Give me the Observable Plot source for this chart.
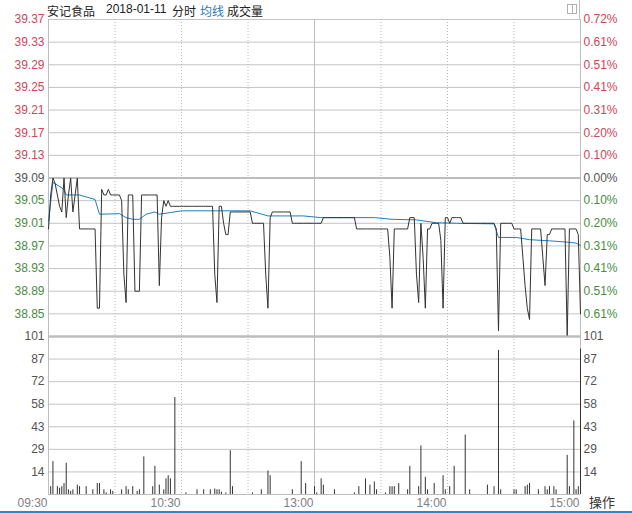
<!DOCTYPE html>
<html><head><meta charset="utf-8">
<script src="https://cdn.jsdelivr.net/npm/d3@7"></script>
<script src="https://cdn.jsdelivr.net/npm/@observablehq/plot@0.6"></script>
<style>
html,body{margin:0;padding:0;background:#fff;}
#wrap{position:relative;width:632px;height:513px;overflow:hidden;font-family:"Liberation Sans",Arial,"Noto Sans CJK SC",sans-serif;font-size:12px;color:#222;}
.abs{position:absolute;white-space:pre;}
#price,#vol{position:absolute;left:0;}
#price{top:0}
#vol{top:328px}
</style></head><body><div id="wrap">
<div id="price"></div>
<div id="vol"></div>
<div class="abs" style="left:47px;top:2px;font-family:'Noto Sans CJK SC';">安记食品</div>
<div class="abs" style="left:106px;top:2px;">2018-01-11</div>
<div class="abs" style="left:172px;top:2px;font-family:'Noto Sans CJK SC';">分时</div>
<div class="abs" style="left:200px;top:2px;font-family:'Noto Sans CJK SC';color:#2a7ab8;">均线</div>
<div class="abs" style="left:227px;top:2px;font-family:'Noto Sans CJK SC';">成交量</div>
<div class="abs" style="left:567px;top:4px;width:8px;height:8px;border:1px solid #b0b0b0;"></div>
<div class="abs" style="left:572px;top:4px;width:1px;height:10px;background:#b0b0b0;"></div>
<div class="abs" style="left:579px;top:0px;width:1px;height:19px;background:#c0c0c0;"></div>
<div class="abs" style="left:589px;top:492px;font-family:'Noto Sans CJK SC';font-size:13px;color:#333;">操作</div>
<div class="abs" style="left:0;top:511px;width:632px;height:2px;background:#2f86d0;"></div>
</div>
<script>
// ---- data ----
const prevClose = 39.09;
const priceTicks = [39.37,39.33,39.29,39.25,39.21,39.17,39.13,39.09,39.05,39.01,38.97,38.93,38.89,38.85];
const pctLabels  = ["0.72%","0.61%","0.51%","0.41%","0.31%","0.20%","0.10%","0.00%","0.10%","0.20%","0.31%","0.41%","0.51%","0.61%"];
const priceBottom = 38.81;
const volMax = 101;
const volTicks = [101/7, 202/7, 303/7, 404/7, 505/7, 606/7, 101];
const volLabels = ["14","29","43","58","72","87","101"];
const timeMinutes = [0, 60, 120, 180, 240];
const timeLabels = ["09:30","10:30","13:00","14:00","15:00"];
const dottedMinutes = [30, 60, 90, 150, 180, 210];

// per-minute last price, 09:30 .. 15:00 (241 points)
const price = [
 39.00,39.06,39.09,39.08,39.06,39.04,39.03,39.09,39.02,39.06,
 39.09,39.03,39.06,39.09,39.00,39.00,39.00,39.00,39.00,39.00,
 39.00,39.00,38.86,38.86,39.07,39.06,39.06,39.07,39.06,39.06,
 39.06,39.06,39.06,39.05,38.92,38.87,39.06,39.06,39.06,38.89,
 38.89,38.89,39.06,39.06,39.06,39.06,39.06,39.06,39.06,39.06,
 38.90,39.02,39.05,39.04,39.05,39.04,39.04,39.04,39.04,39.04,
 39.04,39.04,39.04,39.04,39.04,39.04,39.04,39.04,39.04,39.04,
 39.04,39.04,39.04,39.04,39.04,38.92,38.87,39.04,39.04,39.01,
 38.99,38.99,39.03,39.03,39.03,39.03,39.03,39.03,39.03,39.03,
 39.03,39.03,39.01,39.01,39.01,39.01,39.01,39.01,38.92,38.86,
 39.02,39.03,39.03,39.03,39.03,39.03,39.03,39.03,39.03,39.03,
 39.01,39.01,39.01,39.01,39.01,39.01,39.01,39.01,39.01,39.01,
 39.01,39.01,39.01,39.01,39.02,39.02,39.02,39.02,39.02,39.02,
 39.02,39.02,39.02,39.02,39.02,39.02,39.02,39.02,39.02,39.00,
 39.00,39.00,39.00,39.00,39.00,39.00,39.00,39.00,39.00,39.00,
 39.00,39.00,39.00,39.00,38.95,38.86,39.00,39.00,39.00,39.00,
 39.00,39.00,39.00,39.02,39.02,39.02,38.92,38.87,39.01,38.95,
 38.86,39.00,39.00,39.01,39.01,39.01,39.01,38.98,38.86,39.02,
 39.02,39.01,39.02,39.02,39.02,39.02,39.02,39.01,39.01,39.01,
 39.01,39.01,39.01,39.01,39.01,39.01,39.01,39.01,39.01,39.01,
 39.01,39.01,39.00,38.82,39.01,39.01,39.01,39.01,39.01,39.01,
 39.00,39.00,39.00,39.00,38.95,38.90,38.86,38.84,39.00,39.00,
 39.00,39.00,39.00,38.95,38.90,38.99,38.99,39.00,39.00,39.00,
 39.00,39.00,39.00,39.00,38.81,39.00,39.00,39.00,39.00,38.99,
 38.85
];

// average price line, read at key minutes
const avgMinute = [0,2,3,7,8,14,21,23,32,35,38,41,44,48,50,55,60,91,99,115,123,147,155,166,175,184,201,203,211,217,226,233,238,240];
const avgValue  = [39.014,39.082,39.080,39.070,39.060,39.060,39.052,39.026,39.027,39.020,39.017,39.017,39.026,39.030,39.026,39.029,39.032,39.032,39.023,39.023,39.020,39.020,39.017,39.016,39.011,39.010,39.009,38.985,38.985,38.981,38.979,38.977,38.975,38.971];

// volume (minute, hands)
const volMinute = [1,2,4,5,6,7,8,9,10,11,13,14,17,20,22,23,25,26,28,29,33,35,36,38,40,41,43,47,48,50,52,53,54,55,57,62,67,70,73,75,76,77,78,80,82,83,92,96,99,100,110,114,116,120,121,123,124,129,138,140,143,145,147,148,152,154,155,156,158,162,163,167,168,170,171,174,178,179,181,183,188,190,198,201,203,204,210,211,215,216,217,221,224,225,226,228,229,234,235,237,238,239,240];
const volValue  = [5,21,5,4,5,7,20,3,2,3,6,5,5,3,7,7,3,1,3,2,3,5,3,5,2,3,24,5,18,6,3,10,12,10,62,1,3,3,3,3.5,3,3,1.5,1,28,5,1,3,15,12,3,21,7,5,1,10,6,3,1,5,10,6,8,3,1,5,5,5,7,3,18,5,31,11,3,7,12,3,5,18,38,3,6,5,92,3,3,3,5,6,7,3,5,3,5,5,3,25,5,47,3,5,93];

// ---- build ----
const priceData = price.map((p, i) => ({m: i, p}));
const avgData = avgMinute.map((m, i) => ({m, p: avgValue[i]}));
const volData = volMinute.map((m, i) => ({m, v: volValue[i]}));
const tickData = priceTicks.map((t, i) => ({t, pct: pctLabels[i]}));
const up = tickData.filter(d => d.t > prevClose);
const flat = tickData.filter(d => d.t === prevClose);
const down = tickData.filter(d => d.t < prevClose);
const RED = "#d0455a", GREEN = "#4a8c3f", NEUTRAL = "#555";
const GRID = "#c4c4c4";
const font = {background: "transparent", fontFamily: "'Liberation Sans', Arial, sans-serif", fontSize: "12px", overflow: "visible"};

const leftLab = (data, fill) => Plot.text(data, {y: "t", text: d => d.t.toFixed(2), frameAnchor: "left", dx: -4, textAnchor: "end", fill});
const rightLab = (data, fill) => Plot.text(data, {y: "t", text: "pct", frameAnchor: "right", dx: 3, textAnchor: "start", fill});

const pricePlot = Plot.plot({
  width: 632, height: 340, marginTop: 19, marginBottom: 4, marginLeft: 48, marginRight: 52,
  x: {domain: [0, 240], axis: null},
  y: {domain: [priceBottom, priceTicks[0]], axis: null},
  style: font,
  marks: [
    Plot.ruleY(priceTicks.filter(t => t !== prevClose), {stroke: GRID}),
    Plot.ruleY([prevClose], {stroke: "#bdbdbd", strokeWidth: 2}),
    Plot.ruleY([priceBottom], {stroke: "#bdbdbd", strokeWidth: 2}),
    Plot.ruleX(dottedMinutes, {stroke: "#b8b8b8", strokeDasharray: "1,2"}),
    Plot.ruleX([120], {stroke: "#bdbdbd"}),
    Plot.ruleX([0, 240], {stroke: "#bdbdbd"}),
    Plot.line(avgData, {x: "m", y: "p", stroke: "#1f7fc0", strokeWidth: 1}),
    Plot.line(priceData, {x: "m", y: "p", stroke: "#333", strokeWidth: 1}),
    leftLab(up, RED), leftLab(flat, NEUTRAL), leftLab(down, GREEN),
    rightLab(up, RED), rightLab(flat, NEUTRAL), rightLab(down, GREEN)
  ]
});
document.getElementById("price").appendChild(pricePlot);

const volTickData = volTicks.map((t, i) => ({t, label: volLabels[i]}));
const volPlot = Plot.plot({
  width: 632, height: 185, marginTop: 8, marginBottom: 19, marginLeft: 48, marginRight: 52,
  x: {domain: [0, 240], axis: null},
  y: {domain: [0, volMax], axis: null},
  style: font,
  marks: [
    Plot.ruleY(volTicks.slice(0, 6), {stroke: GRID}),
    Plot.ruleY([volMax], {stroke: "#bdbdbd", strokeWidth: 2}),
    Plot.ruleY([0], {stroke: "#bdbdbd"}),
    Plot.ruleX(dottedMinutes, {stroke: "#b8b8b8", strokeDasharray: "1,2"}),
    Plot.ruleX([120], {stroke: "#bdbdbd"}),
    Plot.ruleX([0, 240], {stroke: "#bdbdbd"}),
    Plot.ruleX(volData, {x: "m", y1: 0, y2: "v", stroke: "#333", strokeWidth: 1}),
    Plot.text(volTickData, {y: "t", text: "label", frameAnchor: "left", dx: -4, textAnchor: "end", fill: NEUTRAL}),
    Plot.text(volTickData, {y: "t", text: "label", frameAnchor: "right", dx: 3, textAnchor: "start", fill: NEUTRAL}),
    Plot.text(timeMinutes, {x: d => d, text: (d, i) => timeLabels[i], frameAnchor: "bottom", dy: 12, dx: -1, textAnchor: "end", fill: "#808080"})
  ]
});
document.getElementById("vol").appendChild(volPlot);
</script>
</body></html>
